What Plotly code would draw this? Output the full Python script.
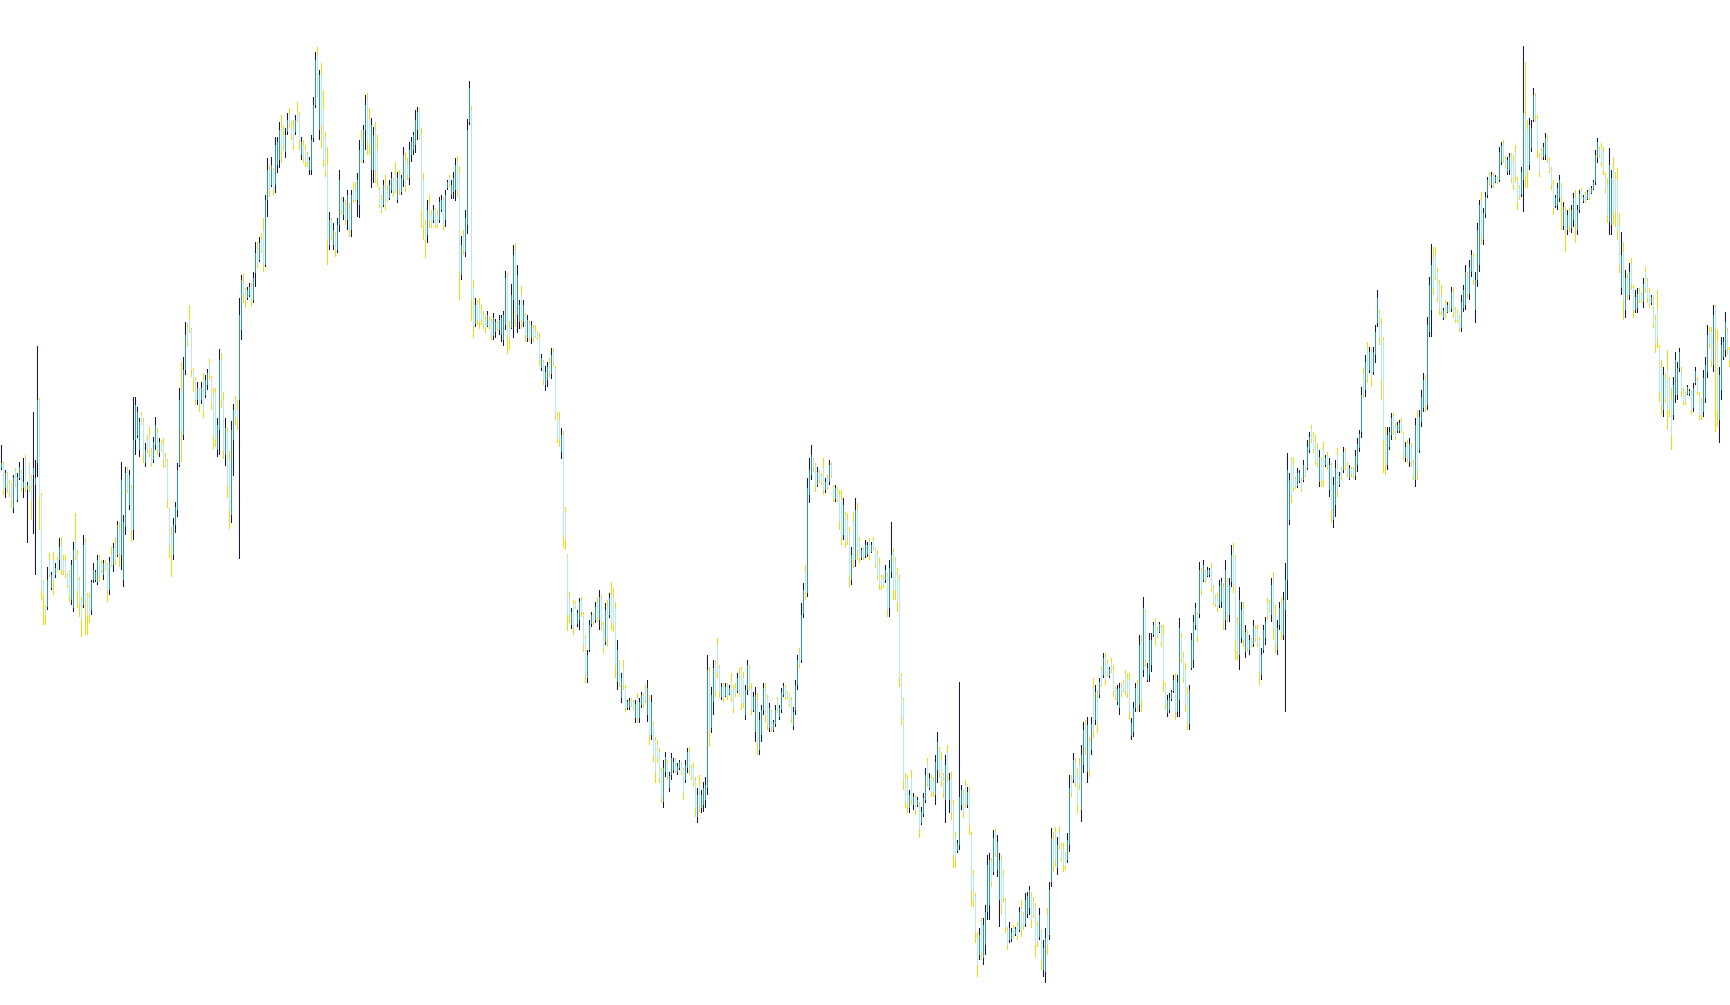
import plotly.graph_objects as go

OPEN = [
532, 535, 512, 525, 517, 515, 492, 530, 500, 522,
527, 512, 540, 510, 535, 522, 525, 515, 537, 600,
505, 418, 393, 393, 440, 412, 440, 425, 440, 440,
455, 440, 440, 425, 428, 400, 392, 460, 445, 420,
400, 395, 458, 405, 402, 390, 420, 420, 418, 442,
435, 425, 437, 435, 410, 445, 435, 455, 445, 470,
445, 420, 473, 530, 495, 512, 470, 560, 565, 550,
585, 578, 537, 560, 565, 548, 540, 555, 568, 547,
557, 555, 543, 538, 490, 465, 445, 475, 490, 535,
610, 565, 630, 672, 680, 670, 630, 620, 600, 610,
600, 620, 605, 615, 637, 622, 605, 608, 550, 570,
640, 600, 545, 568, 540, 485, 560, 600, 590, 600,
670, 717, 710, 702, 705, 713, 700, 727, 750, 740,
760, 770, 735, 800, 830, 815, 830, 815, 835, 840,
872, 865, 848, 868, 885, 875, 870, 868, 888, 885,
845, 855, 850, 845, 830, 830, 862, 895, 945, 870,
925, 890, 862, 835, 755, 780, 755, 765, 750, 775,
800, 785, 795, 780, 790, 770, 812, 810, 800, 795,
860, 840, 870, 900, 880, 830, 830, 870, 850, 810,
800, 795, 815, 810, 802, 810, 820, 825, 800, 825,
808, 820, 840, 835, 822, 845, 850, 855, 870, 890,
865, 820, 775, 765, 795, 785, 780, 790, 785, 780,
790, 800, 780, 812, 822, 805, 808, 810, 838, 826,
725, 765, 748, 775, 878, 890, 712, 676, 697, 695,
690, 685, 680, 674, 680, 678, 664, 668, 677, 670,
665, 660, 675, 725, 672, 672, 700, 750, 685, 678,
705, 678, 685, 662, 677, 662, 672, 668, 667, 662,
632, 638, 615, 620, 636, 626, 648, 632, 585, 580,
548, 565, 488, 445, 402, 375, 395, 397, 376, 380,
400, 385, 362, 322, 350, 376, 385, 380, 398, 380,
402, 375, 358, 393, 385, 405, 402, 392, 318, 338,
302, 332, 312, 292, 293, 300, 297, 282, 302, 282,
295, 304, 310, 285, 300, 265, 275, 260, 255, 248,
228, 198, 228, 237, 212, 225, 230, 240, 228, 232,
236, 230, 220, 232, 248, 232, 233, 220, 183, 215,
192, 195, 200, 212, 328, 272, 298, 335, 355, 332,
303, 314, 304, 314, 306, 318, 310, 312, 309, 326,
330, 322, 285, 310, 332, 312, 290, 268, 300, 250,
265, 290, 312, 302, 272, 288, 270, 276, 300, 283,
290, 305, 313, 307, 305, 300, 274, 290, 315, 348,
340, 386, 428, 407, 505, 525, 540, 534, 515, 527,
524, 532, 510, 522, 518, 535, 513, 501, 510, 505,
500, 465, 485, 480, 468, 420, 478, 440, 490, 458,
442, 451, 444, 446, 458, 448, 460, 452, 446, 436,
422, 421, 420, 425, 392, 428, 448, 438, 426, 420,
324, 300, 222, 220, 192, 222, 195, 202, 195, 195,
177, 186, 200, 238, 212, 222, 220, 205, 230, 250,
240, 225, 200, 248, 200, 222, 195, 162, 149, 155,
195, 206, 215, 195, 210, 165, 125, 104, 62, 45,
78, 42, 55, 88, 95, 138, 128, 168, 130, 100,
140, 125, 100, 70, 60, 61, 72, 66, 74, 70,
92, 85, 76, 86, 92, 104, 98, 92, 75, 63,
68, 30, 28, 85, 65, 118, 160, 168, 132, 168,
155, 150, 146, 140, 155, 222, 220, 238, 225, 235,
190, 235, 275, 228, 258, 250, 312, 280, 302, 305,
330, 325, 342, 336, 324, 338, 330, 311, 298, 292,
314, 317, 326, 322, 320, 264, 268, 292, 315, 295,
358, 330, 388, 320, 325, 335, 365, 378, 371, 368,
372, 365, 315, 287, 290, 301, 309, 320, 288, 300,
362, 343, 330, 305, 276, 332, 340, 375, 385, 386,
428, 420, 428, 424, 425, 432, 412, 402, 404, 395,
398, 412, 380, 418, 385, 418, 450, 442, 375, 345,
362, 392, 348, 366, 350, 360, 356, 372, 370, 360,
325, 350, 362, 398, 396, 385, 420, 385, 350, 375,
395, 365, 390, 420, 480, 540, 535, 521, 514, 519,
519, 520, 531, 532, 550, 571, 564, 558, 552, 518,
540, 550, 535, 544, 510, 534, 480, 495, 545, 515,
530, 530, 549, 535, 522, 531, 530, 524, 535, 552,
568, 626, 610, 652, 630, 648, 628, 645, 677, 687,
675, 660, 565, 535, 553, 565, 584, 573, 569, 569,
578, 566, 542, 556, 538, 553, 537, 520, 582, 550,
578, 592, 620, 595, 668, 690, 740, 745, 728, 715,
705, 682, 696, 688, 696, 691, 706, 690, 687, 682,
672, 692, 695, 724, 706, 728, 743, 690, 720, 735,
798, 760, 786, 805, 825, 815, 824, 818, 822, 820,
838, 856, 842, 828, 830, 844, 838, 848, 820, 812,
806, 820, 885, 870, 835, 852, 880, 903, 882, 843,
849, 843, 845, 860, 840, 831, 815, 794, 795, 802,
814, 774, 788, 770, 788, 772, 780, 802, 770, 790,
810, 799, 805, 801, 809, 807, 811, 818, 842, 851,
852, 848, 825, 815, 778, 775, 830, 822, 820, 775,
712, 748, 690, 722, 705, 736, 712, 690, 692, 708,
705, 698, 728, 718, 708, 697, 700, 680, 690, 652,
632, 590, 622, 630, 620, 600, 585, 605, 605, 632,
628, 608, 606, 606, 606, 607, 592, 617, 620, 604,
598, 588, 602, 628, 668, 668, 635, 693, 660, 580,
610, 643, 650, 668, 650,
]

HIGH = [
555, 538, 530, 528, 520, 517, 525, 532, 527, 538,
530, 542, 545, 518, 537, 525, 588, 540, 654, 602,
507, 420, 395, 433, 447, 428, 448, 437, 443, 462,
463, 445, 445, 427, 430, 440, 458, 487, 450, 423,
403, 465, 462, 407, 407, 420, 437, 430, 445, 445,
440, 440, 440, 437, 443, 453, 457, 462, 479, 478,
538, 485, 533, 533, 530, 515, 603, 603, 593, 582,
588, 582, 557, 565, 573, 552, 563, 583, 572, 562,
560, 562, 547, 541, 492, 473, 482, 498, 537, 612,
638, 643, 678, 677, 695, 672, 632, 623, 618, 612,
618, 627, 625, 631, 641, 624, 612, 612, 582, 651,
647, 608, 582, 573, 549, 579, 596, 604, 600, 702,
725, 727, 712, 713, 717, 717, 728, 758, 758, 763,
767, 782, 805, 842, 835, 843, 832, 863, 863, 878,
885, 875, 872, 887, 892, 878, 880, 885, 898, 888,
863, 860, 855, 848, 843, 865, 903, 948, 953, 930,
937, 910, 868, 853, 788, 782, 777, 768, 782, 830,
803, 803, 800, 810, 797, 810, 817, 818, 827, 860,
870, 875, 905, 907, 892, 882, 873, 878, 865, 813,
805, 820, 825, 815, 820, 828, 823, 838, 828, 830,
825, 853, 848, 842, 858, 863, 868, 890, 893, 892,
872, 827, 780, 800, 805, 790, 795, 792, 790, 803,
805, 803, 810, 820, 825, 820, 828, 842, 844, 834,
764, 770, 790, 881, 919, 894, 720, 702, 700, 702,
695, 689, 685, 689, 683, 681, 687, 681, 679, 685,
685, 689, 729, 727, 679, 716, 755, 757, 735, 700,
714, 700, 687, 685, 679, 679, 675, 675, 669, 667,
646, 640, 634, 638, 642, 652, 652, 634, 588, 588,
572, 569, 493, 446, 408, 392, 400, 399, 390, 402,
403, 388, 365, 350, 380, 388, 387, 398, 403, 410,
405, 378, 397, 400, 407, 418, 412, 398, 360, 340,
327, 340, 315, 300, 302, 302, 300, 300, 307, 302,
308, 307, 315, 320, 305, 305, 278, 263, 260, 252,
232, 240, 248, 240, 228, 247, 242, 242, 237, 240,
238, 232, 240, 252, 253, 235, 237, 223, 212, 225,
210, 218, 223, 345, 333, 313, 340, 340, 362, 335,
317, 317, 317, 317, 315, 327, 315, 317, 327, 332,
333, 328, 315, 340, 335, 317, 308, 313, 307, 288,
295, 317, 317, 305, 297, 290, 280, 295, 303, 295,
312, 317, 315, 309, 307, 303, 293, 320, 345, 352,
397, 417, 435, 522, 542, 555, 542, 537, 533, 530,
527, 542, 522, 525, 540, 538, 515, 515, 513, 510,
510, 502, 488, 487, 473, 453, 488, 502, 497, 463,
452, 453, 460, 458, 462, 458, 463, 453, 450, 442,
425, 425, 435, 427, 440, 478, 452, 443, 432, 425,
327, 302, 227, 225, 210, 230, 207, 205, 203, 198,
193, 207, 232, 242, 227, 225, 223, 245, 268, 253,
248, 227, 245, 255, 227, 228, 200, 168, 160, 318,
215, 210, 220, 213, 213, 168, 130, 107, 68, 72,
82, 82, 95, 145, 147, 142, 170, 172, 165, 147,
145, 130, 102, 73, 78, 72, 75, 73, 78, 93,
100, 88, 107, 108, 114, 108, 103, 97, 78, 92,
70, 60, 72, 92, 118, 172, 168, 173, 163, 173,
157, 157, 148, 167, 225, 225, 247, 242, 232, 242,
255, 278, 280, 283, 263, 283, 322, 315, 310, 322,
333, 347, 347, 340, 333, 342, 335, 313, 315, 317,
317, 320, 330, 327, 327, 282, 298, 317, 320, 365,
365, 403, 390, 337, 367, 367, 378, 382, 373, 378,
375, 375, 317, 305, 307, 310, 325, 327, 325, 382,
367, 348, 337, 313, 315, 367, 385, 397, 388, 438,
432, 440, 430, 433, 432, 437, 415, 405, 407, 420,
422, 417, 440, 422, 422, 455, 457, 445, 383, 413,
398, 398, 375, 370, 365, 362, 380, 375, 375, 363,
352, 375, 383, 402, 400, 422, 428, 395, 380, 398,
403, 408, 437, 547, 527, 543, 542, 523, 532, 530,
522, 540, 533, 560, 568, 575, 568, 565, 557, 550,
543, 558, 545, 548, 542, 537, 523, 540, 552, 528,
533, 553, 552, 538, 535, 533, 533, 550, 562, 570,
613, 632, 645, 658, 653, 652, 653, 675, 710, 690,
682, 663, 573, 573, 573, 587, 587, 577, 578, 580,
582, 568, 558, 560, 562, 557, 540, 582, 590, 590,
610, 627, 625, 683, 723, 756, 753, 753, 732, 720,
715, 692, 700, 698, 698, 713, 712, 693, 690, 685,
705, 715, 735, 728, 740, 750, 747, 728, 777, 800,
808, 792, 808, 823, 828, 828, 827, 825, 824, 853,
858, 860, 844, 843, 847, 847, 845, 855, 823, 815,
833, 954, 938, 880, 882, 880, 912, 907, 885, 847,
852, 857, 867, 865, 843, 833, 820, 805, 817, 825,
817, 798, 793, 790, 792, 795, 807, 810, 795, 810,
812, 805, 808, 810, 812, 814, 820, 850, 862, 853,
857, 853, 827, 822, 852, 830, 843, 828, 832, 787,
768, 758, 730, 727, 737, 742, 715, 710, 712, 712,
708, 722, 733, 722, 712, 705, 703, 685, 710, 655,
640, 633, 627, 650, 623, 612, 623, 648, 638, 652,
633, 612, 608, 615, 611, 610, 617, 633, 623, 608,
602, 630, 643, 675, 673, 673, 695, 695, 670, 633,
663, 663, 688, 672, 653,
]

LOW = [
530, 505, 502, 507, 503, 492, 487, 513, 498, 520,
508, 502, 508, 457, 508, 480, 466, 425, 523, 470,
400, 375, 375, 390, 423, 410, 405, 422, 428, 430,
425, 425, 422, 412, 398, 395, 388, 440, 392, 383,
363, 392, 365, 365, 377, 385, 417, 418, 415, 418,
427, 420, 430, 398, 405, 433, 428, 435, 443, 433,
430, 413, 465, 507, 490, 458, 460, 545, 562, 543,
575, 537, 533, 547, 543, 533, 537, 550, 545, 543,
548, 532, 533, 492, 442, 423, 440, 467, 483, 533,
538, 560, 625, 653, 667, 623, 608, 595, 595, 588,
596, 582, 602, 610, 620, 590, 551, 553, 543, 545,
592, 541, 534, 502, 471, 477, 524, 575, 570, 441,
660, 697, 692, 700, 703, 693, 697, 713, 732, 738,
747, 728, 733, 783, 803, 813, 805, 807, 827, 832,
837, 850, 842, 865, 872, 860, 850, 865, 878, 850,
840, 837, 833, 833, 825, 825, 858, 892, 903, 860,
852, 833, 823, 735, 750, 760, 750, 743, 747, 768,
785, 780, 775, 770, 763, 763, 797, 798, 783, 782,
837, 837, 850, 845, 845, 812, 817, 817, 813, 792,
787, 793, 790, 798, 800, 807, 803, 807, 797, 805,
805, 813, 808, 820, 815, 838, 845, 847, 860, 860,
772, 760, 742, 757, 772, 772, 777, 772, 772, 777,
788, 770, 773, 810, 813, 801, 801, 799, 803, 700,
720, 745, 743, 766, 875, 679, 662, 673, 675, 671,
675, 671, 667, 673, 671, 660, 660, 662, 669, 665,
658, 654, 670, 646, 650, 671, 662, 673, 667, 671,
671, 673, 658, 658, 658, 656, 658, 662, 660, 634,
629, 615, 609, 613, 623, 621, 634, 580, 557, 553,
541, 452, 450, 369, 377, 371, 365, 391, 373, 370,
383, 348, 317, 317, 348, 373, 375, 377, 378, 370,
370, 347, 355, 353, 382, 370, 368, 322, 310, 313,
297, 310, 288, 290, 290, 293, 290, 277, 277, 277,
292, 292, 297, 278, 255, 260, 238, 217, 237, 217,
197, 192, 223, 220, 208, 220, 227, 227, 225, 230,
225, 200, 217, 227, 225, 220, 213, 183, 177, 188,
187, 188, 192, 205, 253, 267, 285, 303, 322, 302,
300, 298, 303, 300, 305, 298, 287, 303, 307, 303,
290, 292, 280, 305, 310, 285, 288, 258, 245, 245,
258, 285, 277, 270, 268, 268, 268, 273, 287, 280,
287, 303, 300, 301, 293, 277, 270, 285, 310, 332,
337, 382, 400, 403, 497, 520, 528, 508, 513, 517,
515, 505, 507, 510, 515, 522, 498, 498, 498, 470,
455, 460, 452, 455, 413, 415, 432, 433, 440, 437,
440, 440, 442, 443, 440, 447, 450, 432, 420, 410,
410, 412, 417, 383, 383, 422, 400, 400, 388, 313,
275, 210, 192, 187, 187, 195, 190, 185, 193, 162,
175, 183, 197, 213, 210, 203, 203, 195, 217, 222,
213, 202, 177, 218, 187, 180, 132, 132, 147, 150,
190, 182, 192, 192, 165, 93, 93, 57, 23, 40,
40, 35, 45, 80, 80, 113, 125, 143, 123, 73,
85, 97, 67, 50, 57, 58, 62, 64, 60, 68,
63, 70, 73, 82, 85, 72, 82, 43, 53, 60,
30, 23, 17, 45, 60, 113, 128, 133, 125, 150,
138, 128, 130, 137, 148, 203, 217, 213, 187, 210,
178, 227, 245, 217, 223, 245, 262, 275, 267, 302,
313, 322, 315, 323, 322, 327, 303, 300, 295, 285,
303, 308, 305, 302, 280, 260, 263, 288, 288, 288,
288, 323, 333, 318, 318, 328, 363, 355, 362, 367,
353, 308, 290, 283, 287, 299, 307, 280, 283, 283,
337, 317, 288, 270, 270, 330, 332, 370, 358, 382,
405, 418, 417, 423, 423, 408, 395, 393, 388, 392,
392, 370, 370, 378, 378, 413, 407, 340, 340, 330,
357, 353, 342, 348, 345, 352, 353, 358, 353, 315,
320, 347, 355, 380, 388, 378, 360, 347, 345, 370,
360, 360, 288, 400, 475, 497, 508, 511, 512, 517,
508, 518, 523, 530, 547, 557, 547, 535, 533, 513,
513, 513, 533, 530, 503, 477, 472, 483, 503, 513,
520, 527, 530, 523, 520, 523, 522, 520, 528, 548,
562, 602, 603, 617, 627, 613, 625, 637, 673, 655,
600, 527, 525, 530, 550, 560, 565, 560, 567, 567,
567, 540, 538, 537, 533, 533, 520, 513, 520, 547,
573, 588, 588, 590, 663, 663, 705, 720, 698, 685,
685, 680, 682, 687, 688, 688, 682, 677, 677, 668,
668, 688, 690, 702, 700, 723, 715, 677, 713, 728,
755, 755, 782, 802, 815, 812, 812, 817, 816, 818,
835, 837, 832, 825, 825, 817, 810, 818, 790, 800,
803, 788, 812, 812, 830, 848, 878, 878, 842, 823,
840, 840, 840, 837, 827, 810, 785, 792, 790, 798,
770, 770, 748, 765, 768, 767, 773, 757, 765, 787,
802, 797, 797, 800, 800, 806, 810, 815, 837, 842,
833, 825, 807, 777, 765, 765, 775, 773, 760, 727,
705, 680, 682, 700, 700, 710, 682, 687, 687, 697,
697, 692, 707, 697, 692, 695, 672, 647, 652, 598,
585, 583, 597, 570, 583, 550, 580, 597, 600, 628,
603, 595, 595, 605, 604, 585, 588, 615, 605, 580,
580, 583, 597, 622, 652, 633, 628, 568, 573, 557,
600, 640, 643, 645, 633,
]

CLOSE = [
537, 510, 527, 515, 508, 500, 522, 515, 523, 533,
512, 518, 515, 515, 515, 500, 532, 522, 600, 503,
410, 405, 385, 420, 425, 425, 420, 432, 430, 453,
430, 430, 425, 415, 405, 435, 450, 445, 410, 395,
380, 455, 400, 385, 385, 418, 430, 428, 440, 425,
430, 437, 432, 410, 438, 435, 452, 440, 475, 447,
520, 478, 527, 510, 525, 470, 560, 595, 588, 578,
577, 545, 550, 550, 548, 537, 558, 575, 550, 558,
550, 540, 535, 500, 455, 445, 475, 493, 530, 600,
570, 630, 665, 660, 670, 630, 620, 600, 612, 595,
612, 590, 620, 627, 625, 597, 565, 560, 575, 640,
600, 550, 572, 515, 490, 570, 590, 582, 580, 685,
720, 707, 700, 710, 713, 700, 722, 747, 735, 757,
750, 735, 800, 830, 810, 835, 810, 855, 858, 870,
850, 855, 865, 880, 875, 865, 855, 880, 880, 860,
858, 842, 838, 838, 840, 860, 895, 940, 905, 925,
875, 840, 830, 760, 780, 765, 770, 750, 775, 820,
790, 798, 780, 805, 770, 805, 800, 800, 820, 850,
840, 870, 895, 860, 855, 875, 865, 830, 820, 795,
790, 815, 795, 800, 815, 822, 808, 810, 822, 810,
822, 845, 815, 825, 850, 858, 865, 880, 888, 862,
790, 775, 760, 790, 780, 775, 790, 775, 775, 798,
800, 775, 805, 818, 815, 815, 822, 835, 810, 729,
755, 750, 782, 870, 912, 700, 675, 695, 680, 678,
680, 675, 672, 685, 674, 665, 682, 678, 672, 680,
682, 685, 722, 665, 660, 705, 745, 690, 725, 695,
680, 695, 665, 680, 662, 675, 662, 664, 662, 640,
642, 620, 628, 633, 628, 645, 638, 585, 562, 560,
565, 465, 460, 385, 385, 388, 372, 393, 387, 398,
388, 355, 325, 345, 375, 385, 378, 393, 383, 403,
378, 352, 390, 362, 402, 378, 375, 335, 350, 318,
322, 315, 292, 298, 299, 295, 292, 296, 282, 298,
305, 296, 300, 312, 265, 298, 245, 228, 242, 222,
203, 232, 243, 225, 224, 242, 238, 230, 234, 238,
228, 207, 235, 248, 230, 223, 218, 192, 205, 195,
205, 212, 215, 330, 270, 305, 332, 310, 328, 308,
313, 302, 313, 304, 312, 303, 292, 306, 322, 308,
296, 298, 310, 335, 314, 290, 303, 305, 258, 280,
290, 312, 285, 276, 292, 273, 278, 290, 290, 292,
308, 314, 303, 303, 296, 282, 288, 315, 340, 336,
385, 410, 408, 512, 530, 545, 532, 515, 528, 520,
518, 510, 518, 513, 535, 525, 502, 512, 501, 478,
462, 495, 458, 462, 425, 445, 440, 490, 450, 442,
450, 443, 455, 455, 445, 455, 452, 436, 425, 416,
414, 415, 430, 390, 432, 445, 410, 410, 398, 322,
282, 220, 198, 195, 205, 200, 203, 190, 200, 170,
188, 202, 225, 218, 222, 207, 208, 238, 258, 228,
220, 207, 235, 225, 220, 188, 145, 140, 157, 203,
210, 188, 197, 208, 175, 110, 100, 68, 35, 65,
48, 75, 88, 135, 140, 118, 162, 148, 158, 140,
95, 102, 72, 55, 72, 68, 65, 71, 64, 88,
70, 74, 100, 104, 110, 80, 86, 55, 58, 85,
40, 52, 62, 55, 110, 162, 135, 140, 155, 155,
142, 135, 134, 160, 212, 207, 240, 218, 195, 215,
245, 270, 252, 275, 230, 276, 270, 308, 275, 318,
316, 342, 320, 326, 331, 330, 308, 303, 311, 312,
306, 310, 309, 306, 288, 277, 292, 312, 294, 355,
300, 392, 340, 332, 360, 360, 375, 362, 364, 376,
358, 320, 296, 300, 302, 308, 320, 288, 318, 372,
342, 322, 295, 278, 310, 360, 378, 392, 364, 430,
410, 435, 420, 430, 430, 412, 398, 396, 392, 414,
418, 378, 430, 385, 415, 445, 415, 360, 348, 400,
390, 360, 368, 352, 360, 354, 374, 362, 357, 328,
345, 370, 378, 384, 390, 415, 372, 355, 372, 392,
368, 400, 420, 530, 520, 505, 512, 514, 527, 527,
511, 535, 525, 553, 563, 561, 551, 540, 537, 543,
520, 520, 542, 534, 535, 490, 515, 532, 510, 524,
523, 548, 535, 527, 532, 526, 524, 544, 556, 566,
605, 607, 638, 625, 648, 622, 648, 668, 702, 662,
620, 560, 535, 565, 568, 582, 570, 563, 575, 577,
570, 546, 553, 542, 556, 538, 524, 575, 530, 583,
603, 620, 595, 675, 715, 735, 712, 725, 703, 690,
688, 690, 686, 695, 690, 708, 688, 680, 680, 671,
698, 710, 728, 706, 733, 745, 720, 720, 770, 795,
765, 787, 803, 820, 818, 825, 815, 823, 818, 848,
854, 842, 835, 840, 843, 822, 815, 825, 798, 803,
828, 887, 825, 830, 875, 872, 905, 885, 850, 828,
843, 853, 862, 842, 830, 815, 792, 802, 812, 820,
803, 793, 770, 785, 774, 790, 802, 775, 790, 806,
804, 803, 799, 808, 802, 812, 818, 845, 858, 845,
838, 830, 810, 785, 835, 822, 785, 790, 770, 735,
745, 700, 722, 706, 728, 716, 690, 703, 706, 700,
699, 716, 712, 702, 696, 703, 678, 655, 662, 608,
595, 625, 602, 590, 590, 565, 615, 640, 632, 648,
608, 598, 598, 613, 609, 590, 612, 629, 608, 585,
585, 622, 635, 665, 656, 640, 685, 672, 590, 625,
655, 658, 678, 652, 640,
]

PERIODS = list(range(len(CLOSE)))

UP_LINE, UP_FILL = "blue", "dodgerblue"
DOWN_LINE, DOWN_FILL = "gold", "paleturquoise"

# wicks: the high-low range of every period, in the candle line colours
wicks = go.Ohlc(
    x=PERIODS,
    open=OPEN,
    high=HIGH,
    low=LOW,
    close=CLOSE,
    tickwidth=0,
    increasing=dict(line=dict(color=UP_LINE, width=1)),
    decreasing=dict(line=dict(color=DOWN_LINE, width=1)),
    hoverinfo="skip",
)


def body_segments(rising):
    xs, ys = [], []
    for p, o, c in zip(PERIODS, OPEN, CLOSE):
        if (c > o) == rising:
            xs += [p, p, None]
            ys += [o, c, None]
    return xs, ys


up_x, up_y = body_segments(True)
dn_x, dn_y = body_segments(False)

# bodies: the open-close range of every period, in the candle fill colours
bodies_up = go.Scatter(x=up_x, y=up_y, mode="lines",
                       line=dict(color=UP_FILL, width=1), hoverinfo="skip")
bodies_dn = go.Scatter(x=dn_x, y=dn_y, mode="lines",
                       line=dict(color=DOWN_FILL, width=1), hoverinfo="skip")

fig = go.Figure([wicks, bodies_up, bodies_dn])

fig.update_layout(
    width=1730,
    height=1005,
    margin=dict(l=0, r=0, t=0, b=0),
    paper_bgcolor="white",
    plot_bgcolor="white",
    showlegend=False,
    xaxis=dict(visible=False, range=[-0.75, len(CLOSE) - 0.75], rangeslider=dict(visible=False)),
    yaxis=dict(visible=False, range=[-5, 1000]),
)

fig.write_html(
    "out.html",
    config={"displayModeBar": False},
    post_script="document.body.style.margin='0';document.body.style.overflow='hidden';",
)
